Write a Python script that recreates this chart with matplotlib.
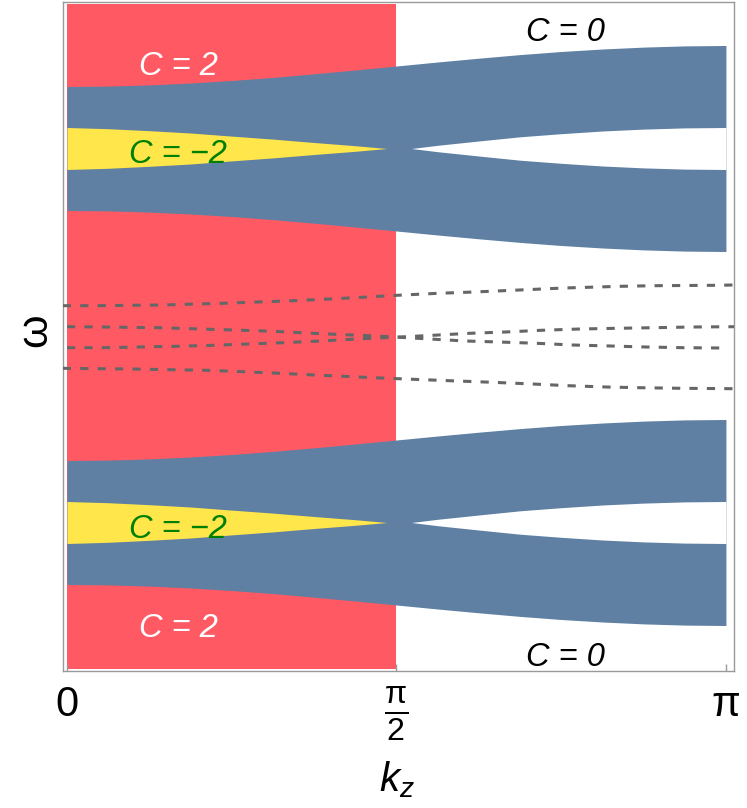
import numpy as np
import matplotlib
matplotlib.use('Agg')
import matplotlib.pyplot as plt

plt.rcParams['font.family'] = ['Liberation Sans', 'DejaVu Sans']
plt.rcParams['mathtext.fontset'] = 'custom'
plt.rcParams['mathtext.rm'] = 'Liberation Sans'
plt.rcParams['mathtext.it'] = 'Liberation Sans:italic'
plt.rcParams['mathtext.bf'] = 'Liberation Sans:bold'

PI = np.pi

# ---------------- data ----------------
# bulk band regions (two symmetric structures centred at these frequencies)
band_centers = [1.865, -1.875]
k_band = [0.0, 0.196, 0.393, 0.589, 0.785, 0.982, 1.178, 1.374, 1.571,
          1.767, 1.963, 2.160, 2.356, 2.553, 2.749, 2.945, 3.1416]
outer_half = [0.620, 0.624, 0.636, 0.655, 0.680, 0.711, 0.747, 0.785, 0.825,
              0.865, 0.903, 0.939, 0.970, 0.995, 1.014, 1.026, 1.030]
# C = -2 gap (yellow), closing near pi/2
k_yellow = [0.0, 0.196, 0.393, 0.589, 0.785, 0.982, 1.178, 1.374, 1.525]
yellow_half = [0.210, 0.198, 0.178, 0.155, 0.124, 0.094, 0.060, 0.028, 0.0]
# C = 0 gap (white), reopening after pi/2
k_gap = [1.642, 1.767, 1.963, 2.160, 2.356, 2.553, 2.749, 2.945, 3.1416]
gap_half = [0.0, 0.032, 0.075, 0.117, 0.148, 0.175, 0.194, 0.206, 0.210]
# C = 2 region (red)
k_red = [0.0, 1.5708]
red_low, red_high = -3.34, 3.315

# surface-state (dashed) lines
k_line1 = [-0.02, 0.143, 0.30, 0.458, 0.562, 0.739, 0.91, 1.077, 1.254, 1.43,
           1.573, 1.77, 1.94, 2.19, 2.37, 2.53, 2.64, 2.80, 3.09, 3.18]
w_line1 = [0.293, 0.293, 0.297, 0.300, 0.307, 0.317, 0.330, 0.343, 0.360, 0.380,
           0.397, 0.417, 0.430, 0.453, 0.470, 0.480, 0.487, 0.493, 0.497, 0.500]
k_line2 = [0.0, 0.165, 0.285, 0.443, 0.634, 0.793, 0.983, 1.142, 1.325, 1.48,
           1.587, 1.73, 1.90, 2.06, 2.24, 2.41, 2.59, 2.76, 2.94, 3.12]
w_line2 = [0.083, 0.080, 0.077, 0.073, 0.060, 0.050, 0.037, 0.020, 0.003, -0.010,
           -0.023, -0.040, -0.060, -0.070, -0.083, -0.100, -0.110, -0.120, -0.127, -0.130]
k_line3 = [0.0, 0.173, 0.34, 0.515, 0.697, 0.86, 1.03, 1.21, 1.38, 1.56,
           1.745, 1.92, 2.09, 2.26, 2.445, 2.62, 2.80, 2.98, 3.18]
w_line3 = [-0.127, -0.127, -0.120, -0.113, -0.103, -0.090, -0.077, -0.060, -0.040, -0.023,
           -0.003, 0.017, 0.030, 0.047, 0.060, 0.067, 0.073, 0.080, 0.083]
k_line4 = [-0.02, 0.133, 0.315, 0.49, 0.667, 0.84, 1.015, 1.18, 1.36, 1.53,
           1.70, 1.86, 2.03, 2.22, 2.39, 2.57, 2.73, 2.93, 3.18]
w_line4 = [-0.333, -0.337, -0.340, -0.347, -0.353, -0.367, -0.383, -0.400, -0.417, -0.433,
           -0.447, -0.460, -0.473, -0.490, -0.507, -0.520, -0.527, -0.533, -0.537]

# Chern-number labels: text, k, omega(baseline), colour
label_texts = ['C = 2', 'C = 2', 'C = \u22122', 'C = \u22122', 'C = 0', 'C = 0']
label_k = [0.529, 0.529, 0.529, 0.529, 2.374, 2.374]
label_w = [2.60, -3.02, 1.72, -2.025, 2.94, -3.31]
label_colors = ['white', 'white', '#008000', '#008000', 'black', 'black']

tick_positions = [0.0, PI / 2, PI]
tick_labels = ['0', r'$\frac{\mathrm{\pi}}{2}$', '\u03c0']

# ---------------- figure ----------------
RED = '#FF5A64'
BLUE = '#5F80A3'
YELLOW = '#FFE64A'
GRAY = '#999999'

fig = plt.figure(figsize=(7.47, 8.08), dpi=100)
ax = fig.add_axes([63 / 747, 1 - 671 / 808, (734 - 63) / 747, (671 - 2) / 808])

ax.fill_between(k_red, [red_low] * 2, [red_high] * 2, color=RED, lw=0, zorder=1)

for c in band_centers:
    ob = np.array(outer_half)
    ax.fill_between(k_band, c - ob, c + ob, color=BLUE, lw=0, zorder=2)
    yh = np.array(yellow_half)
    ax.fill_between(k_yellow, c - yh, c + yh, color=YELLOW, lw=0, zorder=3)
    gh = np.array(gap_half)
    ax.fill_between(k_gap, c - gh, c + gh, color='white', lw=0, zorder=3)

for kk, ww in [(k_line1, w_line1), (k_line2, w_line2), (k_line3, w_line3), (k_line4, w_line4)]:
    ax.plot(kk, ww, color='#666666', lw=2.2, ls=(0, (2.7, 3.0)),
            dash_capstyle='butt', zorder=4)

for t, kx, wy, col in zip(label_texts, label_k, label_w, label_colors):
    ax.text(kx, wy, t, color=col, fontsize=23.5, style='italic',
            ha='center', va='baseline', zorder=5)

ax.set_xlim(-0.019, 3.18)
ax.set_ylim(-3.36, 3.33)
ax.set_yticks([])
ax.set_xticks(tick_positions)
ax.set_xticklabels(tick_labels)
ax.tick_params(axis='x', direction='in', length=5, width=1, color=GRAY,
               labelsize=30, pad=10)
ax.get_xticklabels()[1].set_fontsize(33)
for s in ax.spines.values():
    s.set_color(GRAY)
    s.set_linewidth(1.0)

fig.text(35 / 747, 1 - 330 / 808, '\u03c9', rotation=90, fontsize=31,
         ha='center', va='center')
fig.text(397 / 747, 1 - 780 / 808, r'$k_z$', fontsize=29,
         ha='center', va='center')

fig.savefig('out.png', dpi=100)
